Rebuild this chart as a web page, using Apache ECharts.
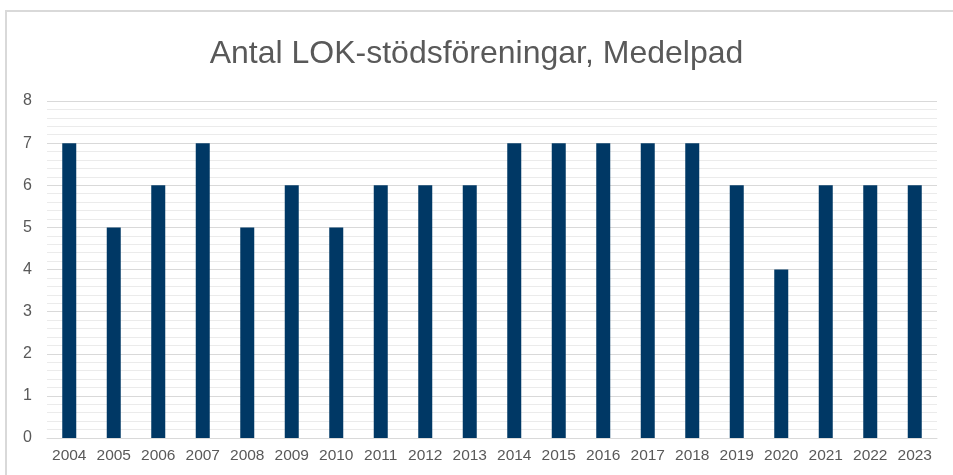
<!DOCTYPE html>
<html>
<head>
<meta charset="utf-8">
<script src="https://cdn.jsdelivr.net/npm/echarts@6/dist/echarts.min.js"></script>
<style>
  html, body { margin: 0; padding: 0; background: #fff; }
  #chart { width: 953px; height: 475px; }
</style>
</head>
<body>
<div id="chart"></div>
<script>
  const years = ['2004', '2005', '2006', '2007', '2008', '2009', '2010', '2011', '2012', '2013',
    '2014', '2015', '2016', '2017', '2018', '2019', '2020', '2021', '2022', '2023'];
  const counts = [7, 5, 6, 7, 5, 6, 5, 6, 6, 6, 7, 7, 7, 7, 7, 6, 4, 6, 6, 6];
  const chartTitle = 'Antal LOK-stödsföreningar, Medelpad';

  const chart = echarts.init(document.getElementById('chart'));
  const font = '"Liberation Sans", Arial, sans-serif';

  chart.setOption({
    animation: false,
    graphic: [
      {
        type: 'rect',
        shape: { x: 6, y: 11, width: 980, height: 500 },
        style: { fill: 'none', stroke: '#d9d9d9', lineWidth: 2 },
        silent: true
      }
    ],
    title: {
      text: chartTitle,
      left: 'center',
      top: 33,
      textStyle: { fontFamily: font, fontSize: 32, fontWeight: 'normal', color: '#595959' }
    },
    grid: { left: 47, right: 16, top: 101, bottom: 37 },
    xAxis: {
      type: 'category',
      data: years,
      axisTick: { show: false },
      axisLine: { lineStyle: { color: '#d9d9d9', width: 1 } },
      axisLabel: { interval: 0, fontFamily: font, fontSize: 15.5, color: '#595959', margin: 10 }
    },
    yAxis: {
      type: 'value',
      min: 0,
      max: 8,
      interval: 1,
      axisLabel: { fontFamily: font, fontSize: 16, color: '#595959', margin: 15 },
      splitLine: { lineStyle: { color: '#d9d9d9', width: 1 } },
      minorTick: { show: false, splitNumber: 5 },
      minorSplitLine: { show: true, lineStyle: { color: '#ebebeb', width: 1 } }
    },
    series: [
      {
        type: 'bar',
        data: counts,
        barWidth: 14,
        itemStyle: { color: '#003865' }
      }
    ]
  });
</script>
</body>
</html>
